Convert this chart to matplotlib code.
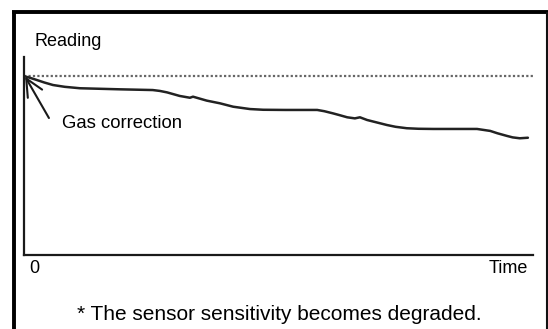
import matplotlib
matplotlib.use("Agg")
import matplotlib.pyplot as plt
from matplotlib.lines import Line2D

plt.rcParams['font.family'] = ['Liberation Sans', 'DejaVu Sans']

# Sensor reading over time (reference level = 100)
time = [0.2, 1.2, 2.2, 4.0, 5.7, 8.0, 11.0, 18.9, 25.3, 26.7, 28.1, 30.6,
        32.6, 33.2, 35.9, 38.5, 41.1, 44.4, 47.0, 51.3, 57.6, 59.0, 60.7,
        62.0, 63.5, 65.0, 66.0, 67.4, 71.3, 73.0, 75.2, 77.5, 80.4, 89.0,
        91.6, 93.0, 94.9, 96.0, 97.4, 99.0]
reading = [99.6, 98.8, 97.9, 96.2, 94.8, 93.8, 93.0, 92.4, 92.0, 91.5, 90.7,
           88.7, 87.7, 88.3, 86.1, 84.6, 82.7, 81.4, 81.0, 80.9, 80.9, 80.2,
           79.0, 78.0, 76.8, 76.2, 76.8, 75.3, 72.5, 71.5, 70.7, 70.4, 70.3,
           70.3, 69.2, 67.9, 66.4, 65.6, 65.1, 65.4]
reference_level = 100
correction_tip = (0.2, 99.6)
correction_tail = (4.9, 76.4)

W, H = 548, 329
fig = plt.figure(figsize=(W / 100, H / 100), dpi=100)
fig.patch.set_facecolor('white')

def fx(px):
    return px / W

def fy(py):
    return 1 - py / H

# outer frame (open at the bottom)
fig.add_artist(Line2D([fx(14), fx(14)], [fy(10.5), 0], color='black', lw=2.8,
                      solid_capstyle='butt'))
fig.add_artist(Line2D([fx(12), 1], [fy(12), fy(12)], color='black', lw=2.8,
                      solid_capstyle='butt'))
fig.add_artist(Line2D([fx(546.8), fx(546.8)], [fy(12), 0], color='#111111',
                      lw=1.5, solid_capstyle='butt'))

ax = fig.add_axes([fx(24), fy(255), fx(533) - fx(24), fy(57) - fy(255)])
ax.set_xlim(0, 100)
ax.set_ylim(0, (255 - 57) / 1.793)
for side in ('top', 'right'):
    ax.spines[side].set_visible(False)
for side in ('left', 'bottom'):
    ax.spines[side].set_linewidth(1.6)
    ax.spines[side].set_color('#1a1a1a')
ax.set_xticks([])
ax.set_yticks([])
ax.patch.set_alpha(0)

ax.plot([0, 100.4], [reference_level, reference_level], color='#666666',
        lw=1.6, linestyle=(0, (1, 1)), clip_on=False)
ax.plot(time, reading, color='#222222', lw=1.8, clip_on=False,
        solid_joinstyle='round', solid_capstyle='round')

ax.annotate('', xy=correction_tip, xytext=correction_tail,
            arrowprops=dict(arrowstyle='->,head_length=0.7,head_width=0.33',
                            mutation_scale=18, lw=1.5, color='#1a1a1a',
                            shrinkA=0, shrinkB=0))

fig.text(fx(35), fy(46), 'Reading', fontsize=13, va='baseline', ha='left')
fig.text(fx(62), fy(128), 'Gas correction', fontsize=13.3, va='baseline',
         ha='left')
fig.text(fx(29), fy(273), '0', fontsize=13, va='baseline', ha='left')
fig.text(fx(528), fy(273), 'Time', fontsize=13, va='baseline', ha='right')
fig.text(fx(279), fy(320), '* The sensor sensitivity becomes degraded.',
         fontsize=15, va='baseline', ha='center')

fig.savefig('out.png', dpi=100)
